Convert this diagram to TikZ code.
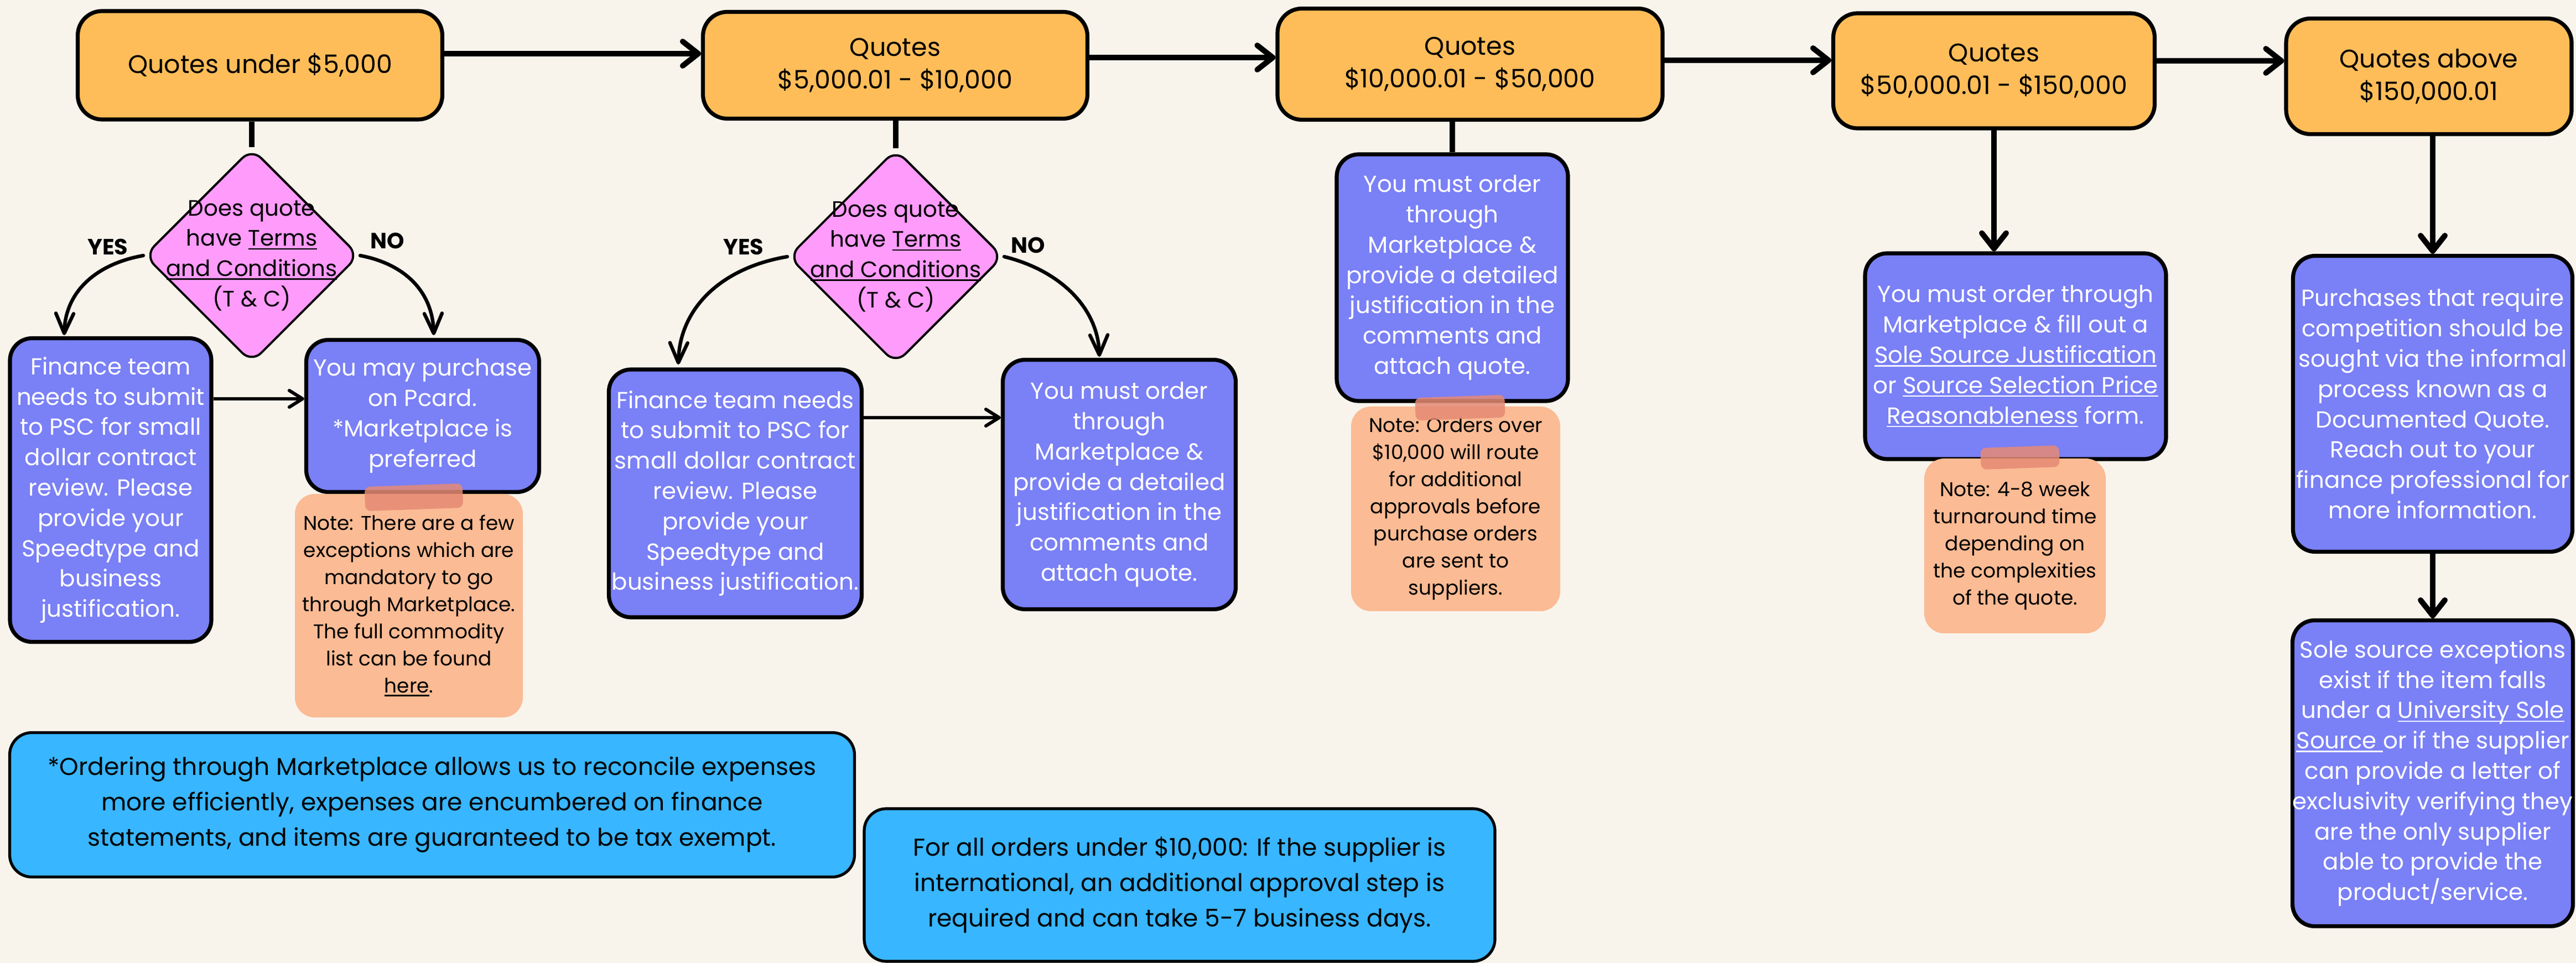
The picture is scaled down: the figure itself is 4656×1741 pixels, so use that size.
\documentclass[tikz,border=0pt]{standalone}
\usepackage{fontspec}
\setmainfont{Poppins}
\usetikzlibrary{arrows.meta,shapes.geometric}

\newcommand{\lnk}[1]{\setbox0\hbox{#1}\rlap{\rule[-1.5pt]{\wd0}{0.6pt}}\box0\relax}

\definecolor{paper}{HTML}{F8F4EC}
\definecolor{quoteorange}{HTML}{FFBD59}
\definecolor{stepblue}{HTML}{7A80F5}
\definecolor{askpink}{HTML}{FF9BFB}
\definecolor{notecol}{HTML}{FBBB94}
\definecolor{tapecol}{HTML}{E58A74}
\definecolor{infoblue}{HTML}{38B6FF}

\tikzset{
  quotebox/.style={draw, line width=1.8pt, fill=quoteorange, rounded corners=11pt, align=center, inner sep=0pt, font=\fontsize{11.5}{14.8}\selectfont},
  actbox/.style={draw, line width=1.8pt, fill=stepblue, text=white, rounded corners=10pt, align=center, inner sep=0pt, font=\fontsize{10.5}{13.7}\selectfont},
  askbox/.style={diamond, draw, line width=1pt, fill=askpink, rounded corners=6pt, inner sep=0pt, minimum width=97pt, minimum height=97pt},
  asktext/.style={align=center, font=\fontsize{10.1}{13.7}\selectfont},
  notebox/.style={fill=notecol, rounded corners=9pt, align=center, inner sep=0pt, font=\fontsize{9}{12.25}\selectfont},
  tapestrip/.style={fill=tapecol, fill opacity=0.85, rounded corners=2.5pt, inner sep=0pt},
  infobox/.style={draw, line width=1.3pt, fill=infoblue, rounded corners=10pt, align=center, inner sep=0pt, font=\fontsize{11}{16}\selectfont},
  answer/.style={font=\bfseries\fontsize{10}{12}\selectfont},
  stem/.style={line width=2.5pt},
  flow/.style={line width=2.5pt, line cap=round, -{Straight Barb[length=7pt,width=11pt,round]}},
  branch/.style={line width=1.6pt, line cap=round, -{Straight Barb[length=9pt,width=8pt,round]}},
  thin flow/.style={line width=1.5pt, -{Straight Barb[length=6pt,width=7.5pt,round]}}
}

\begin{document}
\begin{tikzpicture}[x=0.25pt,y=-0.25pt]
  \fill[paper] (0,0) rectangle (4656,1741);
  \useasboundingbox (0,0) rectangle (4656,1741);

  % price ranges
  \node[quotebox, minimum width=164.75pt, minimum height=49pt] (b1) at (470,118) {Quotes under \$5,000};
  \node[quotebox, minimum width=173.75pt, minimum height=48.25pt] (b2) at (1618,118) {Quotes\\\$5,000.01 - \$10,000};
  \node[quotebox, minimum width=174pt, minimum height=50.25pt] (b3) at (2657,116) {Quotes\\\$10,000.01 - \$50,000};
  \node[quotebox, minimum width=145.25pt, minimum height=52pt] (b4) at (3604,128) {Quotes\\\$50,000.01 - \$150,000};
  \node[quotebox, minimum width=129pt, minimum height=52.25pt] (b5) at (4390,138) {Quotes above\\\$150,000.01};

  \draw[flow] ([yshift=5.25pt]b1.east) -- ([yshift=5.25pt]b1.east -| b2.west);
  \draw[flow] ([yshift=3.5pt]b2.east) -- ([yshift=3.5pt]b2.east -| b3.west);
  \draw[flow] ([yshift=1.75pt]b3.east) -- ([yshift=1.75pt]b3.east -| b4.west);
  \draw[flow] ([yshift=4.5pt]b4.east) -- ([yshift=4.5pt]b4.east -| b5.west);

  % under $5,000
  \node[askbox] (d1) at (455,462) {};
  \node[asktext] (d1q) at (d1) {Does quote\\have \lnk{Terms}\\\lnk{and Conditions}\\(T \& C)};
  \draw[stem] (d1.north |- b1.south) -- (d1.north);
  \node[answer] (yes1) at (195,446) {YES};
  \node[answer] (no1) at (700,435) {NO};

  \node[actbox, minimum width=91pt, minimum height=137.25pt] (fin1) at (200,886)
    {Finance team\\needs to submit\\to PSC for small\\dollar contract\\review. Please\\provide your\\Speedtype and\\business\\justification.};
  \node[actbox, minimum width=105.25pt, minimum height=68.75pt] (may1) at (764,752)
    {You may purchase\\on Pcard.\\*Marketplace is\\preferred};
  \node[notebox, minimum width=103pt, minimum height=101pt] (note1) at (739,1095)
    {Note: There are a few\\exceptions which are\\mandatory to go\\through Marketplace.\\The full commodity\\list can be found\\\lnk{here}.};
  \node[tapestrip, minimum width=44.25pt, minimum height=11pt, rotate=2] (tape1) at (748,899) {};

  \coordinate (y1tip) at (116,606);
  \coordinate (n1tip) at (784,606);
  \draw[branch] (d1.west) .. controls (170,478) and (118,530) .. (y1tip);
  \draw[branch] (d1.east) .. controls (735,478) and (782,530) .. (n1tip);
  \draw[thin flow] ([yshift=41.25pt]fin1.east) -- ([yshift=41.25pt]fin1.east -| may1.west);

  % $5,000.01 - $10,000
  \node[askbox] (d2) at (1619,464) {};
  \node[asktext] (d2q) at (d2) {Does quote\\have \lnk{Terms}\\\lnk{and Conditions}\\(T \& C)};
  \draw[stem] (d2.north |- b2.south) -- (d2.north);
  \node[answer] (yes2) at (1344,446) {YES};
  \node[answer] (no2) at (1858,443) {NO};

  \node[actbox, minimum width=114.25pt, minimum height=112pt] (fin2) at (1329,892)
    {Finance team needs\\to submit to PSC for\\small dollar contract\\review. Please\\provide your\\Speedtype and\\business justification.};
  \node[actbox, minimum width=105.25pt, minimum height=112.75pt] (must2) at (2023,876)
    {You must order\\through\\Marketplace \&\\provide a detailed\\justification in the\\comments and\\attach quote.};

  \coordinate (y2tip) at (1226,659);
  \coordinate (n2tip) at (1987,645);
  \draw[branch] (d2.west) .. controls (1300,485) and (1228,560) .. (y2tip);
  \draw[branch] (d2.east) .. controls (1920,490) and (1985,560) .. (n2tip);
  \draw[thin flow] ([yshift=34.25pt]fin2.east) -- ([yshift=34.25pt]fin2.east -| must2.west);

  % $10,000.01 - $50,000
  \node[actbox, minimum width=104.5pt, minimum height=111.5pt] (must3) at (2625,502)
    {You must order\\through\\Marketplace \&\\provide a detailed\\justification in the\\comments and\\attach quote.};
  \draw[stem] (must3.north |- b3.south) -- (must3.north);
  \node[notebox, minimum width=94.5pt, minimum height=92.5pt] (note3) at (2631,920)
    {Note: Orders over\\\$10,000 will route\\for additional\\approvals before\\purchase orders\\are sent to\\suppliers.};
  \node[tapestrip, minimum width=40.5pt, minimum height=10.25pt, rotate=2] (tape3) at (2639,737) {};

  % $50,000.01 - $150,000
  \node[actbox, minimum width=136pt, minimum height=93pt] (must4) at (3643,644)
    {You must order through\\Marketplace \& fill out a\\\lnk{Sole Source Justification}\\or \lnk{Source Selection Price}\\\lnk{Reasonableness} form.};
  \draw[flow] (b4.south) -- (b4.south |- must4.north);
  \node[notebox, minimum width=82pt, minimum height=79pt] (note4) at (3642,987)
    {Note: 4-8 week\\turnaround time\\depending on\\the complexities\\of the quote.};
  \node[tapestrip, minimum width=35.5pt, minimum height=9.75pt, rotate=2] (tape4) at (3651,827) {};

  % above $150,000.01
  \node[actbox, minimum width=126.25pt, minimum height=133.75pt] (purch) at (4397,730)
    {Purchases that require\\competition should be\\sought via the informal\\process known as a\\Documented Quote.\\Reach out to your\\finance professional for\\more information.};
  \node[actbox, minimum width=126.25pt, minimum height=138.25pt] (sole) at (4397,1398)
    {Sole source exceptions\\exist if the item falls\\under a \lnk{University Sole}\\\lnk{Source\ }or if the supplier\\can provide a letter of\\exclusivity verifying they\\are the only supplier\\able to provide the\\product/service.};
  \draw[flow] (purch.north |- b5.south) -- (purch.north);
  \draw[flow] (purch.south) -- (sole.north);

  % footnotes
  \node[infobox, minimum width=381.75pt, minimum height=65.25pt] (footA) at (781,1455)
    {*Ordering through Marketplace allows us to reconcile expenses\\more efficiently, expenses are encumbered on finance\\statements, and items are guaranteed to be tax exempt.};
  \node[infobox, minimum width=285pt, minimum height=69pt] (footB) at (2132,1600)
    {For all orders under \$10,000: If the supplier is\\international, an additional approval step is\\required and can take 5-7 business days.};
\end{tikzpicture}
\end{document}
